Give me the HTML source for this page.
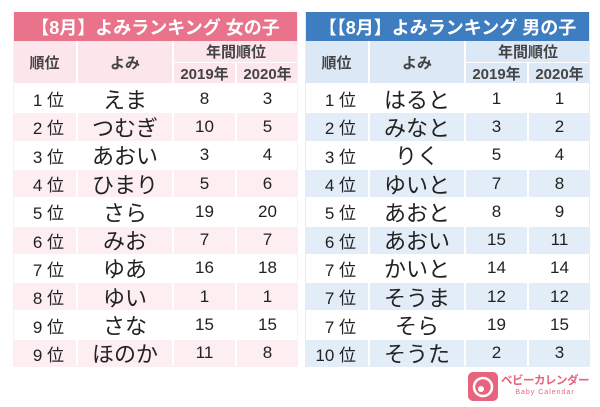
<!DOCTYPE html>
<html><head><meta charset="utf-8"><style>
body{margin:0;width:600px;height:407px;background:#fff;overflow:hidden;font-family:"Liberation Sans","Noto Sans CJK JP",sans-serif;position:relative}
.c{position:absolute;display:flex;align-items:center;justify-content:center;box-sizing:border-box;color:#222;white-space:nowrap}
.t{color:#fff;font-weight:bold;font-size:18px}
.h{font-weight:bold;font-size:15px;color:#444}
.r{font-size:17px;justify-content:flex-end;padding-right:12px}
.y{font-size:22px}
.n{font-size:17px}
</style></head><body>
<div id="root"></div>
<div class="c" style="left:467px;top:370px;width:130px;height:32px;justify-content:flex-start">
<svg width="32" height="32"><rect x="1" y="2" width="30" height="29" rx="5" fill="#e8637e"/><circle cx="16" cy="17" r="9" fill="none" stroke="#fff" stroke-width="2.5"/><circle cx="14" cy="19" r="3" fill="#fff"/></svg>
<div style="margin-left:2px;line-height:1"><div style="color:#e8637e;font-weight:bold;font-size:11.5px;letter-spacing:-0.5px">ベビーカレンダー</div><div style="color:#e8637e;font-size:7px;text-align:center;letter-spacing:1px;margin-top:2px">Baby Calendar</div></div>
</div>
<script>
const girlRanks=["1 位","2 位","3 位","4 位","5 位","6 位","7 位","8 位","9 位","9 位"];
const girlNames=["えま","つむぎ","あおい","ひまり","さら","みお","ゆあ","ゆい","さな","ほのか"];
const girl2019=[8,10,3,5,19,7,16,1,15,11];
const girl2020=[3,5,4,6,20,7,18,1,15,8];
const boyRanks=["1 位","2 位","3 位","4 位","5 位","6 位","7 位","7 位","7 位","10 位"];
const boyNames=["はると","みなと","りく","ゆいと","あおと","あおい","かいと","そうま","そら","そうた"];
const boy2019=[1,3,5,7,8,15,14,12,19,2];
const boy2020=[1,2,4,8,9,11,14,12,15,3];
const root=document.getElementById('root');
function cell(x,y,w,h,bg,cls,txt,name){
  const d=document.createElement('div');
  d.className='c '+cls;
  d.style.cssText=`left:${x}px;top:${y}px;width:${w}px;height:${h}px;background:${bg}`;
  d.textContent=txt;
  
  
  root.appendChild(d);
}
function table(x0,title,tc,hc,alt,ranks,names,a,b,pre){
  cell(x0,12,285,29,tc,'t',title,pre+'-title');
  cell(x0,41,63,42,hc,'h','順位',pre+'-rank-header');
  cell(x0+65,41,94,42,hc,'h','よみ',pre+'-yomi-header');
  cell(x0+161,41,124,21,hc,'h','年間順位',pre+'-annual-header');
  cell(x0+161,63,61,20,hc,'h','2019年',pre+'-2019-header');
  cell(x0+224,63,61,20,hc,'h','2020年',pre+'-2020-header');
  const rh=28.3;
  for(let i=0;i<10;i++){
    const y=85+i*rh, bg=i%2?alt:'#fff';
    cell(x0,y,63,rh-1,bg,'r',ranks[i],pre+'-rank-'+(i+1));
    cell(x0+65,y,94,rh-1,bg,'y',names[i],pre+'-name-'+(i+1));
    cell(x0+161,y,61,rh-1,bg,'n',a[i],pre+'-2019-'+(i+1));
    cell(x0+224,y,61,rh-1,bg,'n',b[i],pre+'-2020-'+(i+1));
  }
  const bd=document.createElement('div');
  bd.style.cssText=`position:absolute;left:${x0}px;top:12px;width:285px;height:355px;box-sizing:border-box;border:1px solid ${alt};border-top:none`;
  
  
  root.appendChild(bd);
}
table(13,'【8月】よみランキング 女の子','#e8738a','#fce6ec','#fdeef2',girlRanks,girlNames,girl2019,girl2020,'girl');
table(305,'【【8月】よみランキング 男の子','#3f7dc1','#dce8f5','#e3edf8',boyRanks,boyNames,boy2019,boy2020,'boy');
</script>
</body></html>
